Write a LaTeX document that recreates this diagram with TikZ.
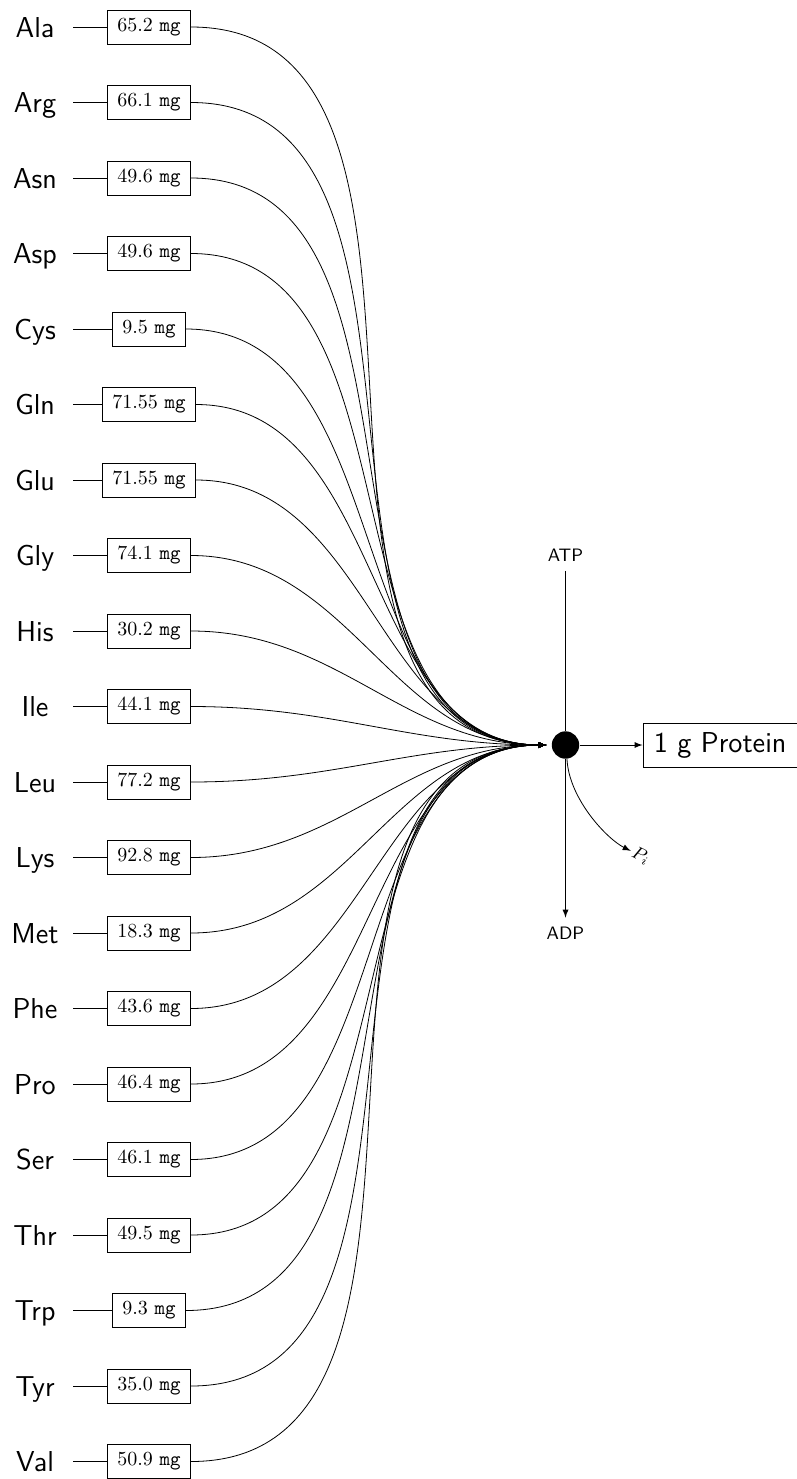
\documentclass[tikz,border=0pt]{standalone}
\usepackage{amsmath}
\usepackage{amssymb}

\begin{document}
\begin{tikzpicture}[x=0.5pt,y=0.5pt,yscale=-1,xscale=1,
	acid/.style={font=\Large\sffamily, minimum width=38pt, text height=10pt, text depth=0pt},
	amount/.style={draw, inner xsep=5pt, inner ysep=4pt},
	feed/.style={-latex, shorten >=2.5pt},
	cofactor/.style={font=\small\sffamily, inner sep=4.5pt, text height=6pt, text depth=0pt}]
	\useasboundingbox (0,0) rectangle (797,1479);
	\node [circle, fill=black, inner sep=0pt, minimum size=13.7pt] (hub) at (565.5,745) {};
	\node [draw, font=\Large\sffamily, inner xsep=5.5pt, inner ysep=4.5pt, anchor=west] (protein) at (642.5,745) {1 g Protein};
	\node [cofactor] (atp) at (565.5,555.5) {ATP};
	\node [cofactor] (adp) at (565.5,933) {ADP};
	\node [inner sep=1pt, rotate=-26, font=\small] (pi) at (641,856) {$P_i$};
	\node [acid] (ala) at (35,27) {Ala};
	\node [acid] (arg) at (35,102.5) {Arg};
	\node [acid] (asn) at (35,178) {Asn};
	\node [acid] (asp) at (35,253.5) {Asp};
	\node [acid] (cys) at (35,329) {Cys};
	\node [acid] (gln) at (35,404.5) {Gln};
	\node [acid] (glu) at (35,480) {Glu};
	\node [acid] (gly) at (35,555.5) {Gly};
	\node [acid] (his) at (35,631) {His};
	\node [acid] (ile) at (35,706.5) {Ile};
	\node [acid] (leu) at (35,782) {Leu};
	\node [acid] (lys) at (35,857.5) {Lys};
	\node [acid] (met) at (35,933) {Met};
	\node [acid] (phe) at (35,1008.5) {Phe};
	\node [acid] (pro) at (35,1084) {Pro};
	\node [acid] (ser) at (35,1159.5) {Ser};
	\node [acid] (thr) at (35,1235) {Thr};
	\node [acid] (trp) at (35,1310.5) {Trp};
	\node [acid] (tyr) at (35,1386) {Tyr};
	\node [acid] (val) at (35,1461.5) {Val};
	\node [amount] (alamg) at (149,27) {65.2 \texttt{mg}};
	\node [amount] (argmg) at (149,102.5) {66.1 \texttt{mg}};
	\node [amount] (asnmg) at (149,178) {49.6 \texttt{mg}};
	\node [amount] (aspmg) at (149,253.5) {49.6 \texttt{mg}};
	\node [amount] (cysmg) at (149,329) {9.5 \texttt{mg}};
	\node [amount] (glnmg) at (149,404.5) {71.55 \texttt{mg}};
	\node [amount] (glumg) at (149,480) {71.55 \texttt{mg}};
	\node [amount] (glymg) at (149,555.5) {74.1 \texttt{mg}};
	\node [amount] (hismg) at (149,631) {30.2 \texttt{mg}};
	\node [amount] (ilemg) at (149,706.5) {44.1 \texttt{mg}};
	\node [amount] (leumg) at (149,782) {77.2 \texttt{mg}};
	\node [amount] (lysmg) at (149,857.5) {92.8 \texttt{mg}};
	\node [amount] (metmg) at (149,933) {18.3 \texttt{mg}};
	\node [amount] (phemg) at (149,1008.5) {43.6 \texttt{mg}};
	\node [amount] (promg) at (149,1084) {46.4 \texttt{mg}};
	\node [amount] (sermg) at (149,1159.5) {46.1 \texttt{mg}};
	\node [amount] (thrmg) at (149,1235) {49.5 \texttt{mg}};
	\node [amount] (trpmg) at (149,1310.5) {9.3 \texttt{mg}};
	\node [amount] (tyrmg) at (149,1386) {35.0 \texttt{mg}};
	\node [amount] (valmg) at (149,1461.5) {50.9 \texttt{mg}};
	\draw (ala) -- (alamg);
	\draw (arg) -- (argmg);
	\draw (asn) -- (asnmg);
	\draw (asp) -- (aspmg);
	\draw (cys) -- (cysmg);
	\draw (gln) -- (glnmg);
	\draw (glu) -- (glumg);
	\draw (gly) -- (glymg);
	\draw (his) -- (hismg);
	\draw (ile) -- (ilemg);
	\draw (leu) -- (leumg);
	\draw (lys) -- (lysmg);
	\draw (met) -- (metmg);
	\draw (phe) -- (phemg);
	\draw (pro) -- (promg);
	\draw (ser) -- (sermg);
	\draw (thr) -- (thrmg);
	\draw (trp) -- (trpmg);
	\draw (tyr) -- (tyrmg);
	\draw (val) -- (valmg);
	\draw [feed] (alamg) to[out=0,in=180] (hub);
	\draw [feed] (argmg) to[out=0,in=180] (hub);
	\draw [feed] (asnmg) to[out=0,in=180] (hub);
	\draw [feed] (aspmg) to[out=0,in=180] (hub);
	\draw [feed] (cysmg) to[out=0,in=180] (hub);
	\draw [feed] (glnmg) to[out=0,in=180] (hub);
	\draw [feed] (glumg) to[out=0,in=180] (hub);
	\draw [feed] (glymg) to[out=0,in=180] (hub);
	\draw [feed] (hismg) to[out=0,in=180] (hub);
	\draw [feed] (ilemg) to[out=0,in=180] (hub);
	\draw [feed] (leumg) to[out=0,in=180] (hub);
	\draw [feed] (lysmg) to[out=0,in=180] (hub);
	\draw [feed] (metmg) to[out=0,in=180] (hub);
	\draw [feed] (phemg) to[out=0,in=180] (hub);
	\draw [feed] (promg) to[out=0,in=180] (hub);
	\draw [feed] (sermg) to[out=0,in=180] (hub);
	\draw [feed] (thrmg) to[out=0,in=180] (hub);
	\draw [feed] (trpmg) to[out=0,in=180] (hub);
	\draw [feed] (tyrmg) to[out=0,in=180] (hub);
	\draw [feed] (valmg) to[out=0,in=180] (hub);
	\draw (atp) -- (hub);
	\draw [-latex] (hub) -- (adp);
	\draw [-latex] (hub) -- (protein);
	\draw [-latex] (hub.-84) .. controls +(2,40) and +(-34,-17) .. (pi);
\end{tikzpicture}
\end{document}
